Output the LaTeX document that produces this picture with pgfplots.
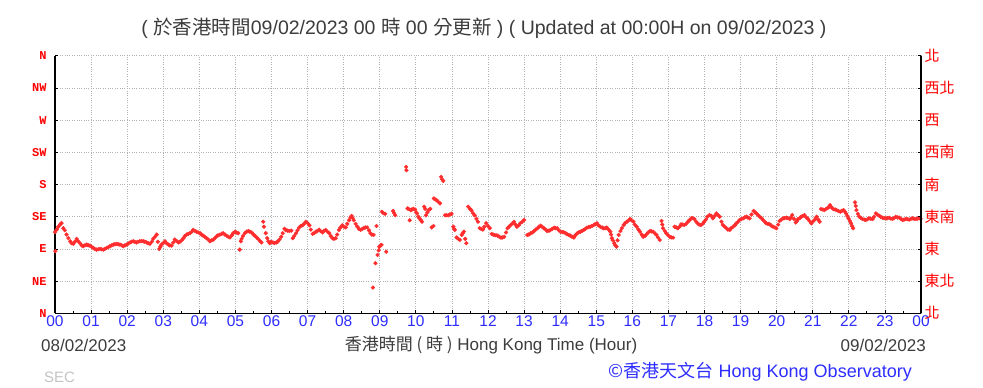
\documentclass[border=0pt]{standalone}
\usepackage{pgfplots}
\pgfplotsset{compat=1.18}
\usepackage{fontspec}
\setmainfont{Liberation Sans}
\newfontfamily\cjk{Noto Sans CJK TC}
\newfontfamily\monof{Liberation Mono}
\definecolor{ptred}{RGB}{255,45,45}
\definecolor{lblred}{RGB}{255,0,0}
\definecolor{tickblue}{RGB}{45,45,255}
\definecolor{txtgray}{RGB}{60,60,60}
\definecolor{secgray}{RGB}{195,195,195}
\pgfplotstableread{
h d
0.00 113.4
0.01 86.8
0.05 117
0.09 121
0.14 124
0.18 126
0.23 119
0.27 116
0.32 110
0.37 105
0.42 100.6
0.46 98
0.51 97
0.55 100
0.60 104
0.64 101
0.69 98
0.74 95
0.78 93.7
0.83 95
0.88 96
0.92 95
0.97 94.6
1.01 93
1.06 91.4
1.10 90
1.15 89
1.20 89.5
1.25 90
1.29 89.5
1.34 89
1.38 90
1.43 91.4
1.48 92.5
1.52 93.7
1.57 95
1.62 96
1.66 96.5
1.71 97
1.75 96.5
1.80 96
1.85 95
1.89 93.7
1.94 95
1.99 96
2.03 97.5
2.08 99
2.12 100
2.17 100.6
2.21 100
2.26 99
2.30 100
2.35 100.6
2.40 101
2.45 100.6
2.49 100
2.54 99
2.58 98
2.63 97
2.68 100
2.72 104
2.77 107
2.82 110
2.85 100
2.89 90
2.92 93
2.95 96
3.00 98
3.05 100.6
3.09 98
3.14 96
3.18 95
3.23 94.6
3.28 99
3.32 103
3.37 101
3.42 99
3.46 100
3.51 102
3.56 105
3.60 108
3.65 110
3.69 111
3.74 112
3.79 114
3.83 116.6
3.88 115
3.92 114
3.97 113
4.02 112
4.06 110
4.11 108.4
4.15 107
4.20 105
4.25 103
4.29 100.6
4.34 102
4.39 103
4.43 105
4.48 107.5
4.52 109
4.57 110
4.62 111
4.66 112
4.71 110
4.76 108.4
4.80 107
4.85 106
4.90 109
4.94 112
4.99 114
5.03 113
5.08 112
5.12 89
5.15 100.6
5.17 104
5.21 108
5.26 112
5.31 114
5.36 115
5.40 114
5.45 113
5.50 110
5.54 108.4
5.59 106
5.63 104
5.68 101
5.72 99
5.77 128
5.79 121
5.84 112
5.88 105
5.91 100.6
5.95 98
5.99 100
6.04 99
6.08 98
6.13 99
6.17 100
6.22 103
6.27 107
6.31 112
6.36 118
6.40 116
6.45 115.5
6.50 115
6.55 115.5
6.59 105
6.63 108
6.68 112
6.72 116
6.77 120
6.81 122
6.86 123
6.90 125
6.95 128
7.00 126
7.05 123
7.09 117
7.14 111
7.18 112
7.23 114
7.27 115
7.32 117
7.36 115
7.41 113
7.45 115
7.50 116.5
7.55 114
7.60 112
7.64 108
7.69 105
7.73 104
7.78 105
7.82 110
7.87 116.5
7.91 120
7.96 123
8.01 121
8.06 120
8.10 125
8.15 130
8.19 134
8.22 136
8.25 133
8.28 130
8.33 125
8.38 121
8.42 118
8.47 116.5
8.51 118
8.56 119
8.60 120
8.65 120
8.70 116
8.74 112
8.78 110
8.83 109.5
8.81 36
8.88 70
8.91 122
8.94 81.6
8.97 88
8.99 93
9.02 95
9.05 95.5
9.18 86
9.06 142
9.10 140
9.15 139
9.37 143
9.40 140
9.43 137
9.73 204.6
9.74 200
9.77 146.6
9.80 146
9.83 130
9.86 144
9.89 145
9.93 146
9.98 145
10.01 141
10.03 139.6
10.07 135
10.10 132.7
10.14 130
10.17 128
10.23 149
10.26 146
10.28 137
10.32 141
10.35 144
10.40 146
10.44 120
10.49 122
10.50 160.5
10.54 159
10.58 158
10.62 156
10.67 153.6
10.70 190.7
10.73 187
10.76 185
10.81 137
10.85 137
10.90 137
10.94 138
10.99 139
11.04 121
11.06 118
11.08 116.5
11.13 106
11.18 104
11.22 102.5
11.27 109.5
11.30 112
11.33 114
11.37 104
11.40 98
11.45 149
11.50 146
11.54 144
11.58 140
11.63 137
11.68 132
11.72 128
11.77 119
11.81 118
11.86 117
11.90 121
11.95 126
12.00 122
12.05 119
12.10 111
12.14 110
12.17 109.5
12.22 109
12.27 108.5
12.31 107
12.36 105.8
12.40 106
12.45 107
12.50 113
12.54 118.8
12.58 121
12.63 123.4
12.68 126
12.72 128
12.76 124
12.80 121
12.85 123
12.89 125.7
12.95 128
13.00 130.4
13.09 109.5
13.13 110
13.18 111.8
13.23 113
13.28 115
13.32 117
13.37 118.8
13.41 121
13.46 122.5
13.50 121
13.55 118.8
13.60 117
13.64 115
13.69 115.5
13.73 116.4
13.78 118
13.83 119.7
13.87 119
13.92 118.8
13.96 116
14.01 114
14.06 113.5
14.10 113.2
14.15 112
14.19 110.4
14.24 109.5
14.28 108.5
14.33 107
14.38 105.8
14.42 109
14.47 111.8
14.51 113
14.56 114
14.60 115
14.65 116.4
14.70 118
14.74 119.7
14.79 120.5
14.83 121
14.88 122
14.93 123.4
14.97 124.5
15.02 125.7
15.06 123
15.11 121
15.16 120
15.20 118.8
15.25 119
15.29 119.7
15.34 117
15.39 114
15.41 110
15.43 105
15.46 102
15.50 98
15.53 95
15.56 93.2
15.59 102
15.62 109.5
15.67 115
15.71 119
15.76 123.4
15.80 126
15.85 128
15.90 130
15.94 131.8
15.98 130
16.03 128
16.07 124
16.12 121
16.17 117
16.21 114
16.26 110
16.30 107
16.35 108
16.39 110.4
16.44 113
16.49 115
16.53 114.5
16.58 114
16.62 112
16.67 109.5
16.71 106
16.76 102.5
16.81 129
16.83 124
16.85 118.8
16.90 115
16.94 111.8
16.99 109
17.04 107
17.08 106
17.13 105.8
17.17 121
17.22 120
17.26 118.8
17.31 121
17.35 124.3
17.40 124
17.44 123.4
17.49 125
17.54 128
17.58 130
17.63 132.7
17.67 133
17.72 131.8
17.77 128
17.81 125.7
17.85 124
17.90 123.4
17.95 125
17.99 128
18.04 131
18.08 135
18.14 137.3
18.19 136
18.23 132.7
18.28 136
18.33 139.6
18.38 137
18.42 135
18.47 128
18.51 123.4
18.56 121
18.61 118.8
18.65 117
18.70 116.4
18.74 119
18.79 121
18.84 123
18.88 125.7
18.93 128
18.97 130.4
19.02 131.5
19.07 132.7
19.11 134
19.16 135
19.20 134
19.25 132.7
19.30 138
19.36 143
19.40 141
19.44 139.6
19.49 137
19.53 135
19.58 133
19.62 130.4
19.67 128
19.71 125.7
19.76 125
19.81 124.3
19.85 122.5
19.90 121
19.95 120
19.99 118.8
20.04 124
20.08 129
20.13 131
20.18 132.7
20.22 133
20.27 133.6
20.31 133
20.36 131.8
20.40 134
20.43 137.3
20.48 132
20.53 127
20.56 129
20.59 131.8
20.64 133
20.68 135
20.72 136
20.77 137.3
20.82 134
20.87 131.8
20.91 129
20.96 125.7
21.00 128
21.05 130.4
21.08 133
21.11 135
21.15 131
21.19 128
21.23 145.7
21.28 145
21.32 144.3
21.37 146
21.42 147.5
21.45 149
21.48 151.2
21.52 148
21.57 145.7
21.62 145
21.66 144.3
21.71 143
21.76 142
21.80 143
21.85 144.3
21.89 142
21.92 139.6
21.96 136
21.99 132.7
22.03 129
22.06 125.7
22.09 122
22.12 118.8
22.17 155
22.19 150
22.21 144.3
22.25 139
22.29 135
22.34 133
22.38 131.8
22.43 131
22.47 130.4
22.52 131.5
22.56 132.7
22.61 132
22.66 131.8
22.70 135
22.75 139.6
22.79 138
22.84 136.4
22.88 135
22.93 133.6
22.98 133
23.03 132.7
23.07 133
23.12 133.6
23.16 132.5
23.21 131.8
23.25 133
23.30 135
23.35 134
23.40 133.6
23.44 132
23.49 130.4
23.53 131
23.58 131.8
23.63 131.5
23.67 130.9
23.72 132
23.77 132.7
23.81 132
23.86 131.8
23.90 132.5
23.95 132.7
23.99 132
}\winddata
\begin{document}
\begin{tikzpicture}
\path[use as bounding box] (0,0) rectangle (983bp,388bp);
\begin{axis}[
  at={(55bp,74.7bp)}, anchor=south west,
  width=866bp, height=257.6bp, scale only axis,
  xmin=0, xmax=24, ymin=0, ymax=360,
  axis x line=bottom, axis y line=box,
  axis line style={-, black, line width=1.1pt},
  xtick={0,1,...,24},
  xticklabels={00,01,02,03,04,05,06,07,08,09,10,11,12,13,14,15,16,17,18,19,20,21,22,23,00},
  minor x tick num=1,
  ytick={0,45,...,360},
  yticklabels={N,NE,E,SE,S,SW,W,NW,N},
  grid=major,
  major grid style={dotted, color=gray!60, line width=0.8pt},
  tick align=inside, major tick length=3bp, minor tick length=2.5bp,
  tick style={black, line width=0.8pt},
  xticklabel style={font=\fontsize{15.5bp}{18bp}\selectfont, text=tickblue, yshift=1bp},
  yticklabel style={font=\monof\bfseries\fontsize{12bp}{14bp}\selectfont, text=lblred, xshift=-5bp},
  clip=false,
]
\addplot[only marks, mark=*, mark size=1.9bp, color=ptred, mark options={draw=ptred, fill=ptred}] table[x=h, y=d] {\winddata};
\end{axis}
\begin{axis}[
  at={(55bp,74.7bp)}, anchor=south west,
  width=866bp, height=257.6bp, scale only axis,
  xmin=0, xmax=24, ymin=0, ymax=360,
  axis x line=none, axis y line*=right,
  axis line style={-, black, line width=1.1pt},
  ytick={0,45,...,360},
  yticklabels={北,東北,東,東南,南,西南,西,西北,北},
  tick align=inside, major tick length=3bp,
  tick style={black, line width=0.8pt},
  yticklabel style={font=\cjk\fontsize{15bp}{17bp}\selectfont, text=lblred, xshift=0bp},
]
\end{axis}
\node[anchor=center, text=txtgray, font=\fontsize{19.5bp}{21bp}\selectfont] at (484bp,360bp) {( {\cjk 於香港時間}09/02/2023 00 {\cjk 時} 00 {\cjk 分更新} ) ( Updated at 00:00H on 09/02/2023 )};
\node[anchor=west, text=txtgray, font=\fontsize{17bp}{19bp}\selectfont, inner sep=0pt] at (41bp,42.5bp) {08/02/2023};
\node[anchor=east, text=txtgray, font=\fontsize{17bp}{19bp}\selectfont, inner sep=0pt] at (926bp,42.5bp) {09/02/2023};
\node[anchor=center, text=txtgray, font=\fontsize{17bp}{19bp}\selectfont, inner sep=0pt] at (491bp,42.5bp) {{\cjk 香港時間 ( 時 )} Hong Kong Time (Hour)};
\node[anchor=west, text=secgray, font=\fontsize{15bp}{17bp}\selectfont, inner sep=0pt] at (44bp,10.5bp) {SEC};
\node[anchor=east, text=tickblue, font=\fontsize{18bp}{20bp}\selectfont, inner sep=0pt] at (912bp,16bp) {{\cjk ©香港天文台} Hong Kong Observatory};
\end{tikzpicture}
\end{document}
